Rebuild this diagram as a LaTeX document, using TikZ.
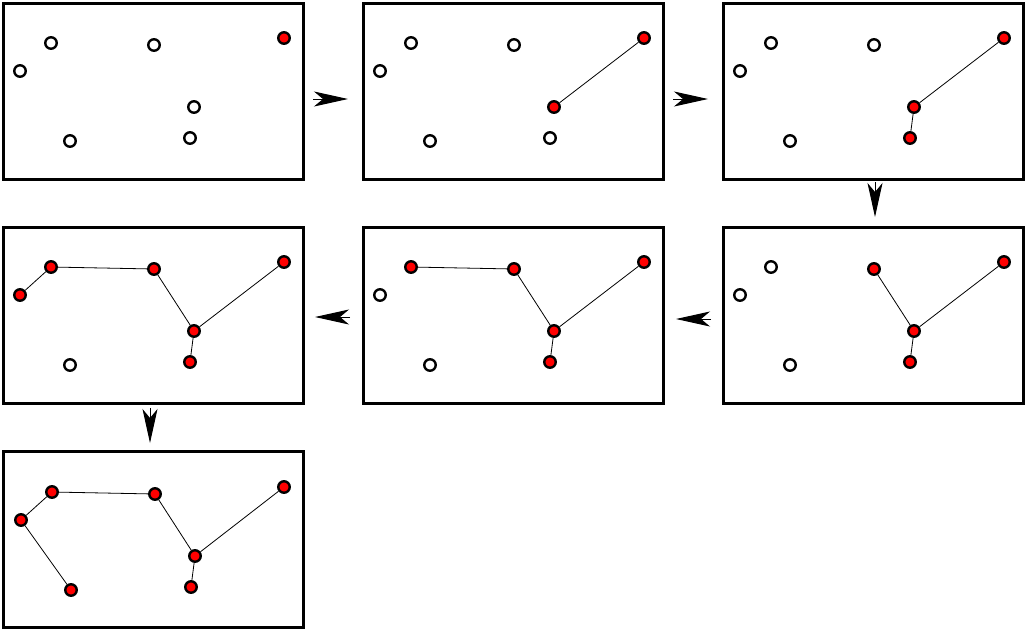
\documentclass[tikz,border=0pt]{standalone}
\usepackage{tikz}
\usetikzlibrary{arrows.meta, positioning}

\begin{document}
\begin{tikzpicture}[
    x=1pt, y=-1pt,
    panel/.style={
        rectangle, draw=black, line width=2.6pt,
        minimum width=300pt, minimum height=176pt,
        anchor=north west, inner sep=0pt
    },
    free/.style={circle, draw=black, fill=white, line width=2.4pt,
        minimum size=11.5pt, inner sep=0pt},
    taken/.style={circle, draw=black, fill=red, line width=2.4pt,
        minimum size=11.5pt, inner sep=0pt},
    edge/.style={line width=0.8pt},
    arrow/.style={-{Stealth[length=34pt, width=15pt, inset=9pt]}, line width=1pt},
]
\useasboundingbox (0,0) rectangle (1025,630);

% Riquadri
\node[panel] (box1) at (2,2) {};
\node[panel] (box2) at (362,2) {};
\node[panel] (box3) at (722,2) {};
\node[panel] (box4) at (722,226) {};
\node[panel] (box5) at (362,226) {};
\node[panel] (box6) at (2,226) {};
\node[panel] (box7) at (2,450) {};

%% Passo 1
\begin{scope}[shift={(2,2)}]
\node[free]  (p1a) at (49,41) {};
\node[free]  (p1b) at (18,69) {};
\node[free]  (p1c) at (152,43) {};
\node[taken] (p1d) at (282,36) {};
\node[free]  (p1e) at (192,105) {};
\node[free]  (p1f) at (68,139) {};
\node[free]  (p1g) at (188,136) {};
\end{scope}

%% Passo 2
\begin{scope}[shift={(362,2)}]
\node[free]  (p2a) at (49,41) {};
\node[free]  (p2b) at (18,69) {};
\node[free]  (p2c) at (152,43) {};
\node[taken] (p2d) at (282,36) {};
\node[taken] (p2e) at (192,105) {};
\node[free]  (p2f) at (68,139) {};
\node[free]  (p2g) at (188,136) {};
\end{scope}
\draw[edge] (p2d) -- (p2e);

%% Passo 3
\begin{scope}[shift={(722,2)}]
\node[free]  (p3a) at (49,41) {};
\node[free]  (p3b) at (18,69) {};
\node[free]  (p3c) at (152,43) {};
\node[taken] (p3d) at (282,36) {};
\node[taken] (p3e) at (192,105) {};
\node[free]  (p3f) at (68,139) {};
\node[taken] (p3g) at (188,136) {};
\end{scope}
\draw[edge] (p3d) -- (p3e);
\draw[edge] (p3e) -- (p3g);

%% Passo 4
\begin{scope}[shift={(722,226)}]
\node[free]  (p4a) at (49,41) {};
\node[free]  (p4b) at (18,69) {};
\node[taken] (p4c) at (152,43) {};
\node[taken] (p4d) at (282,36) {};
\node[taken] (p4e) at (192,105) {};
\node[free]  (p4f) at (68,139) {};
\node[taken] (p4g) at (188,136) {};
\end{scope}
\draw[edge] (p4d) -- (p4e);
\draw[edge] (p4e) -- (p4g);
\draw[edge] (p4c) -- (p4e);

%% Passo 5
\begin{scope}[shift={(362,226)}]
\node[taken] (p5a) at (49,41) {};
\node[free]  (p5b) at (18,69) {};
\node[taken] (p5c) at (152,43) {};
\node[taken] (p5d) at (282,36) {};
\node[taken] (p5e) at (192,105) {};
\node[free]  (p5f) at (68,139) {};
\node[taken] (p5g) at (188,136) {};
\end{scope}
\draw[edge] (p5d) -- (p5e);
\draw[edge] (p5e) -- (p5g);
\draw[edge] (p5c) -- (p5e);
\draw[edge] (p5a) -- (p5c);

%% Passo 6
\begin{scope}[shift={(2,226)}]
\node[taken] (p6a) at (49,41) {};
\node[taken] (p6b) at (18,69) {};
\node[taken] (p6c) at (152,43) {};
\node[taken] (p6d) at (282,36) {};
\node[taken] (p6e) at (192,105) {};
\node[free]  (p6f) at (68,139) {};
\node[taken] (p6g) at (188,136) {};
\end{scope}
\draw[edge] (p6d) -- (p6e);
\draw[edge] (p6e) -- (p6g);
\draw[edge] (p6c) -- (p6e);
\draw[edge] (p6a) -- (p6c);
\draw[edge] (p6a) -- (p6b);

%% Passo 7
\begin{scope}[shift={(2,450)}]
\node[taken] (p7a) at (50,42) {};
\node[taken] (p7b) at (19,70) {};
\node[taken] (p7c) at (153,44) {};
\node[taken] (p7d) at (282,37) {};
\node[taken] (p7e) at (193,106) {};
\node[taken] (p7f) at (69,140) {};
\node[taken] (p7g) at (189,137) {};
\end{scope}
\draw[edge] (p7d) -- (p7e);
\draw[edge] (p7e) -- (p7g);
\draw[edge] (p7c) -- (p7e);
\draw[edge] (p7a) -- (p7c);
\draw[edge] (p7a) -- (p7b);
\draw[edge] (p7b) -- (p7f);

% Frecce tra i passi
\coordinate (s12) at (313,99);  \coordinate (e12) at (348,99);
\coordinate (s23) at (673,99);  \coordinate (e23) at (708,99);
\coordinate (s34) at (875,182); \coordinate (e34) at (875,217);
\coordinate (s45) at (711,319); \coordinate (e45) at (676,319);
\coordinate (s56) at (350,317); \coordinate (e56) at (315,317);
\coordinate (s67) at (150,408); \coordinate (e67) at (150,443);

\draw[arrow] (s12) -- (e12);
\draw[arrow] (s23) -- (e23);
\draw[arrow] (s34) -- (e34);
\draw[arrow] (s45) -- (e45);
\draw[arrow] (s56) -- (e56);
\draw[arrow] (s67) -- (e67);

\end{tikzpicture}
\end{document}
